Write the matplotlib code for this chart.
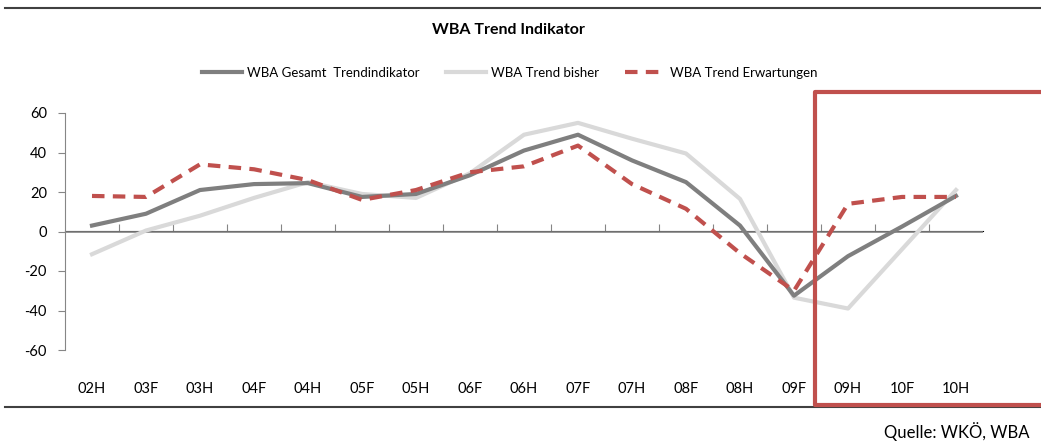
import numpy as np
import matplotlib
matplotlib.use('Agg')
import matplotlib.pyplot as plt
from matplotlib.lines import Line2D

plt.rcParams['font.family'] = ['Liberation Sans Narrow', 'Lato', 'DejaVu Sans']
plt.rcParams['axes.unicode_minus'] = False

# data:
periods = ['02H', '03F', '03H', '04F', '04H', '05F', '05H', '06F', '06H',
           '07F', '07H', '08F', '08H', '09F', '09H', '10F', '10H']
gesamt = [3, 9, 21, 24, 24.5, 17.5, 19, 28.5, 41, 49, 36, 25, 3, -32.5, -12.5, 2.5, 18]
bisher = [-11.5, 0.5, 8, 17, 25, 19, 17, 29.5, 49, 55, 47, 39.5, 16.5, -33.5, -39, -9, 21]
erwartungen = [18, 17.5, 34, 31.5, 26, 16, 21, 30, 33, 43.5, 24, 11.5, -11, -30, 14, 17.5, 17.5]

dark = '#7f7f7f'
light = '#d9d9d9'
red = '#c0504d'
axis_col = '#868686'

W, H = 1041, 443
fig = plt.figure(figsize=(W / 100, H / 100), dpi=100)
ax = fig.add_axes([65 / W, 1 - 350 / H, (983 - 65) / W, (350 - 113) / H])

x = np.arange(len(periods))
ax.plot(x, bisher, color=light, lw=3, label='WBA Trend bisher', zorder=2)
ax.plot(x, gesamt, color=dark, lw=3, label='WBA Gesamt  Trendindikator', zorder=3)
ax.plot(x, erwartungen, color=red, lw=3, ls=(0, (3, 2)), label='WBA Trend Erwartungen', zorder=4)

ax.set_xlim(-0.5, len(periods) - 0.5)
ax.set_ylim(-60, 60)
ax.set_yticks(np.arange(-60, 61, 20))
ax.tick_params(axis='y', length=5, color=axis_col, labelsize=10.5, pad=8)
ax.set_xticks(x)
ax.set_xticklabels(periods)
ax.tick_params(axis='x', length=0, labelsize=10.5, pad=23)
for s in ['top', 'right', 'bottom']:
    ax.spines[s].set_visible(False)
ax.spines['left'].set_color(axis_col)

# zero line with category ticks
ax.axhline(0, color=axis_col, lw=1.2, zorder=1)
sec = ax.secondary_xaxis(0.5)
sec.set_xticks(x[:-1] + 0.5)
sec.set_xticklabels([])
sec.tick_params(length=5, color=axis_col, direction='out')
sec.spines['bottom'].set_visible(False)

fig.text(508 / W, 1 - 30 / H, 'WBA Trend Indikator', ha='center', va='center',
         fontsize=11.5, fontweight='bold')

handles = [ax.lines[1], ax.lines[0], ax.lines[2]]
fig.legend(handles, [h.get_label() for h in handles], loc='center',
           bbox_to_anchor=(510 / W, 1 - 73 / H), ncol=3, frameon=False,
           fontsize=9.5, handlelength=3, columnspacing=2.0, handletextpad=0.4)

# decorations
fig.add_artist(Line2D([5 / W, 1], [1 - 8 / H] * 2, color='#404040', lw=1.5))
fig.add_artist(Line2D([5 / W, 1], [1 - 407 / H] * 2, color='#404040', lw=1.5))
bx = 815 / W
fig.add_artist(Line2D([1.01, bx, bx, 1.01], [1 - 92 / H, 1 - 92 / H, 1 - 405 / H, 1 - 405 / H],
                      color=red, lw=3))
fig.text(1 - 12 / W, 1 - 432 / H, 'Quelle: WKÖ, WBA', ha='right', va='center', fontsize=12)

fig.savefig('out.png', dpi=100)
